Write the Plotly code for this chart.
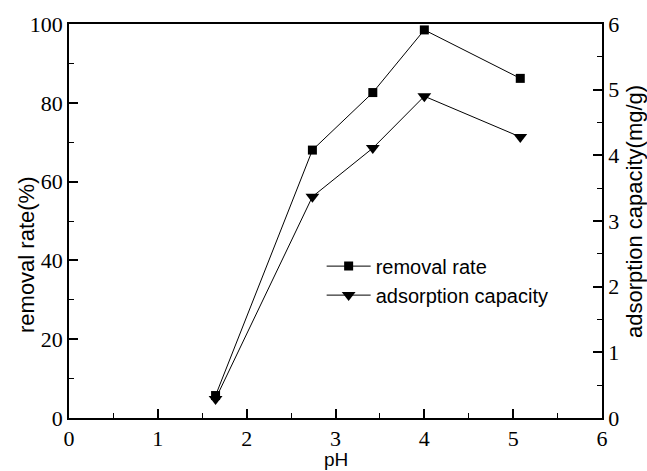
import plotly.graph_objects as go

ph = [1.65, 2.74, 3.42, 4.0, 5.08]
removal_rate = [5.7, 68.0, 82.6, 98.5, 86.2]
adsorption_capacity = [0.29, 3.37, 4.11, 4.90, 4.28]

x_ticks = [0, 1, 2, 3, 4, 5, 6]
y1_ticks = [0, 20, 40, 60, 80, 100]
y2_ticks = [0, 1, 2, 3, 4, 5, 6]

fig = go.Figure()
fig.add_trace(go.Scatter(
    x=ph, y=removal_rate, name="removal rate", mode="lines+markers",
    line=dict(color="black", width=1),
    marker=dict(symbol="square", size=9, color="black"),
    yaxis="y"))
fig.add_trace(go.Scatter(
    x=ph, y=adsorption_capacity, name="adsorption capacity", mode="lines+markers",
    line=dict(color="black", width=1),
    marker=dict(symbol="triangle-down", size=12, color="black"),
    yaxis="y2"))

tickfont = dict(family="Liberation Serif", size=22, color="black")
titlefont = dict(family="Liberation Sans", size=22, color="black")

L, R, T, B = 69, 45, 24, 53
W, H = 647, 471
pw, ph_ = W - L - R, H - T - B

def px2paper(px, py):
    return (px - L) / pw, (H - B - py) / ph_

fig.update_layout(
    width=W, height=H,
    margin=dict(l=L, r=R, t=T, b=B),
    paper_bgcolor="white", plot_bgcolor="white",
    showlegend=True,
    legend=dict(x=0.474, y=0.435, xanchor="left", yanchor="top",
                font=dict(family="Liberation Sans", size=20, color="black"),
                bgcolor="rgba(0,0,0,0)", tracegroupgap=0, itemsizing="trace",
                itemwidth=44),
    xaxis=dict(range=[0, 6], tickvals=x_ticks, ticktext=[str(v) for v in x_ticks],
               ticks="inside", ticklen=9, tickwidth=1.5, tickcolor="black",
               showline=True, linecolor="black", linewidth=1.5, mirror=True,
               showgrid=False, zeroline=False, tickfont=tickfont,
               minor=dict(dtick=0.5, ticks="inside", ticklen=5, tickcolor="black", tickwidth=1)),
    yaxis=dict(range=[0, 100], tickvals=y1_ticks, ticktext=[str(v) for v in y1_ticks],
               ticks="inside", ticklen=9, tickwidth=1.5, tickcolor="black",
               showline=True, linecolor="black", linewidth=1.5,
               showgrid=False, zeroline=False, tickfont=tickfont,
               minor=dict(dtick=10, ticks="inside", ticklen=5, tickcolor="black", tickwidth=1)),
    yaxis2=dict(range=[0, 6], tickvals=y2_ticks, ticktext=[str(v) for v in y2_ticks],
                overlaying="y", side="right",
                ticks="inside", ticklen=9, tickwidth=1.5, tickcolor="black",
                showline=True, linecolor="black", linewidth=1.5,
                showgrid=False, zeroline=False, tickfont=tickfont,
                minor=dict(dtick=0.5, ticks="inside", ticklen=5, tickcolor="black", tickwidth=1)),
)

ax, ay = px2paper(27, 255)
fig.add_annotation(text="removal rate(%)", x=ax, y=ay, xref="paper", yref="paper",
                   textangle=-90, showarrow=False, font=titlefont,
                   xanchor="center", yanchor="middle")
ax, ay = px2paper(634, 212)
fig.add_annotation(text="adsorption capacity(mg/g)", x=ax, y=ay, xref="paper", yref="paper",
                   textangle=-90, showarrow=False, font=titlefont,
                   xanchor="center", yanchor="middle")
ax, ay = px2paper(336, 471)
fig.add_annotation(text="pH", x=ax, y=ay, xref="paper", yref="paper",
                   showarrow=False, font=dict(family="Liberation Sans", size=19, color="black"),
                   xanchor="center", yanchor="bottom", borderpad=0)

fig.write_html("out.html")
